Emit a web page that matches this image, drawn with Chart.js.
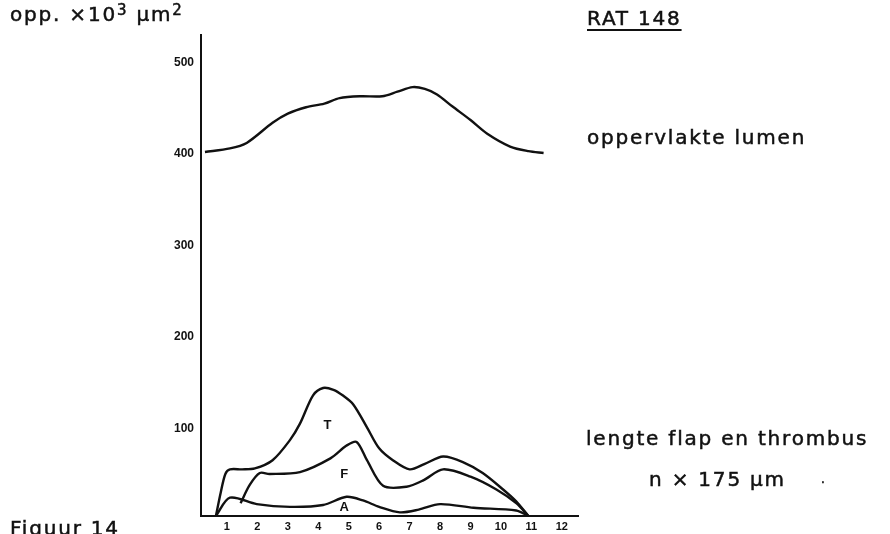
<!DOCTYPE html>
<html>
<head>
<meta charset="utf-8">
<script src="https://cdn.jsdelivr.net/npm/chart.js@4.4.1/dist/chart.umd.min.js"></script>
<style>
    html, body { margin: 0; padding: 0; background: #fff; }
    #wrap { position: relative; width: 890px; height: 534px; overflow: hidden; }
    .lbl { position: absolute; font-family: "DejaVu Sans", sans-serif; font-size: 20px; letter-spacing: 1.8px; color: #111; white-space: nowrap; -webkit-text-stroke: 0.5px #111; }
    .lbl sup { font-size: 15px; vertical-align: 6px; line-height: 0; }
</style>
</head>
<body>
<div id="wrap">
    <canvas id="chart" width="890" height="534"></canvas>
    <div class="lbl" style="left:10px; top:2px;">opp. ×10<sup>3</sup> µm<sup>2</sup></div>
    <div class="lbl" style="left:587px; top:6px; text-decoration: underline; text-decoration-thickness: 2px; text-underline-offset: 4px;">RAT 148</div>
    <div class="lbl" style="left:587px; top:125px;">oppervlakte lumen</div>
    <div class="lbl" style="left:586px; top:426px;">lengte flap en thrombus</div>
    <div class="lbl" style="left:649px; top:467px;">n × 175 µm</div>
    <div class="lbl" style="left:821px; top:472px; font-size:12px;">.</div>
    <div class="lbl" style="left:10px; top:516px;">Figuur 14</div>
</div>
<script>
// axis ticks
var xTicks = [1, 2, 3, 4, 5, 6, 7, 8, 9, 10, 11, 12];
var yTicks = [100, 200, 300, 400, 500];

// oppervlakte lumen (x10^3 um2)
var lumenX = [0.28, 1.1, 1.65, 2.5, 3.0, 3.6, 4.2, 4.7, 5.4, 6.1, 6.6, 7.1, 7.5, 7.9, 8.4, 9.0, 9.55, 10.3, 10.9, 11.4];
var lumenY = [402, 406, 412, 434, 444, 451, 455, 461, 463, 463, 468, 473, 471, 465, 452, 437, 422, 408, 403, 401];

// T curve
var tX = [0.64, 0.8, 0.95, 1.1, 1.5, 1.92, 2.5, 3.07, 3.4, 3.83, 4.16, 4.5, 4.8, 5.15, 5.6, 6.0, 6.45, 7.0, 7.5, 8.1, 8.75, 9.4, 10.07, 10.5, 10.9];
var tY = [4, 30, 50, 55, 55, 56, 65, 87, 105, 136, 144, 142, 136, 126, 101, 78, 65, 55, 61, 69, 63, 51, 33, 20, 4];

// F curve
var fX = [1.45, 1.75, 2.08, 2.4, 3.4, 4.4, 4.93, 5.26, 5.6, 6.13, 6.9, 7.45, 8.1, 9.0, 9.85, 10.5, 10.9];
var fY = [18, 38, 51, 50, 52, 67, 81, 85, 65, 37, 36, 43, 55, 47, 33, 18, 4];

// A curve
var aX = [0.64, 1.1, 1.98, 3.07, 4.16, 4.93, 5.47, 6.0, 6.68, 7.3, 8.0, 9.1, 10.5, 10.9];
var aY = [4, 24, 17, 14, 16, 25, 21, 14, 8, 11, 17, 13, 10, 4];

// curve letters
var curveLabels = ['T', 'F', 'A'];
var labelX = [4.3, 4.85, 4.85];
var labelY = [103, 49, 13];

function toPoints(xs, ys) {
    return xs.map(function(x, i) { return { x: x, y: ys[i] }; });
}

function curve(xs, ys) {
    return {
        data: toPoints(xs, ys),
        borderColor: '#111',
        borderWidth: 2.4,
        pointRadius: 0,
        fill: false,
        tension: 0.3
    };
}

var letterPlugin = {
    id: 'letters',
    afterDatasetsDraw: function(chart) {
        var ctx = chart.ctx;
        var xs = chart.scales.x, ys = chart.scales.y;
        ctx.save();
        ctx.fillStyle = '#111';
        ctx.font = 'bold 13px "Liberation Sans", Arial, sans-serif';
        ctx.textAlign = 'center';
        ctx.textBaseline = 'middle';
        curveLabels.forEach(function(t, i) {
            ctx.fillText(t, xs.getPixelForValue(labelX[i]), ys.getPixelForValue(labelY[i]));
        });
        ctx.restore();
    }
};

var ctx = document.getElementById('chart').getContext('2d');
new Chart(ctx, {
    type: 'line',
    data: {
        datasets: [
            curve(lumenX, lumenY),
            curve(tX, tY),
            curve(fX, fY),
            curve(aX, aY)
        ]
    },
    options: {
        responsive: false,
        animation: false,
        layout: { padding: { left: 0, top: 35, right: 312, bottom: 0 } },
        plugins: { legend: { display: false }, tooltip: { enabled: false } },
        scales: {
            x: {
                type: 'linear',
                min: 0.15,
                max: 12.53,
                afterBuildTicks: function(scale) {
                    scale.ticks = xTicks.map(function(v) { return { value: v }; });
                },
                afterFit: function(scale) { scale.height = 18; },
                grid: { display: false, drawTicks: false },
                border: { color: '#111', width: 2 },
                ticks: {
                    color: '#111',
                    padding: 4,
                    maxRotation: 0,
                    font: { family: '"Liberation Sans", Arial, sans-serif', size: 11, weight: 'bold' }
                }
            },
            y: {
                type: 'linear',
                min: 4,
                max: 530,
                afterBuildTicks: function(scale) {
                    scale.ticks = yTicks.map(function(v) { return { value: v }; });
                },
                afterFit: function(scale) { scale.width = 201; },
                grid: { display: false, drawTicks: false },
                border: { color: '#111', width: 2 },
                ticks: {
                    color: '#111',
                    padding: 7,
                    font: { family: '"Liberation Sans", Arial, sans-serif', size: 12, weight: 'bold' }
                }
            }
        }
    },
    plugins: [letterPlugin]
});
</script>
</body>
</html>
